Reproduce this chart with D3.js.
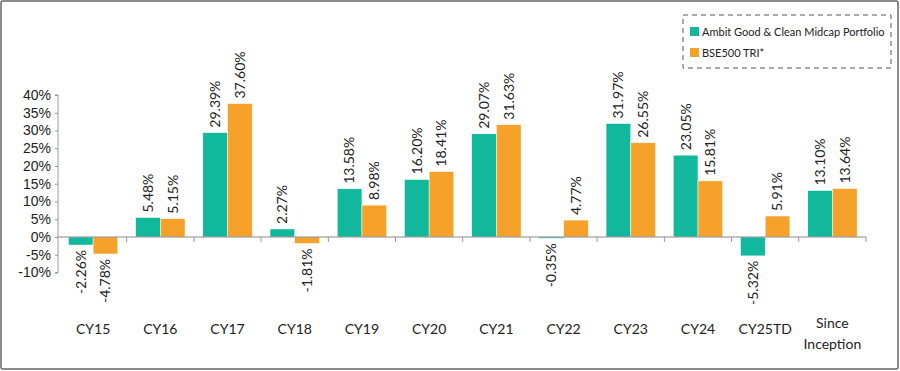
<!DOCTYPE html>
<html>
<head>
<meta charset="utf-8">
<script src="https://cdn.jsdelivr.net/npm/d3@7.9.0/dist/d3.min.js"></script>
<style>
  body { margin: 0; background: #fff; }
  svg { display: block; font-family: "Lato", "Noto Sans", sans-serif; }
</style>
</head>
<body>
<svg id="chart" width="900" height="371"></svg>
<script>
// data
const categories = ["CY15", "CY16", "CY17", "CY18", "CY19", "CY20", "CY21", "CY22", "CY23", "CY24", "CY25TD", "Since\nInception"];
const portfolio = [-2.26, 5.48, 29.39, 2.27, 13.58, 16.20, 29.07, -0.35, 31.97, 23.05, -5.32, 13.10];
const benchmark = [-4.78, 5.15, 37.60, -1.81, 8.98, 18.41, 31.63, 4.77, 26.55, 15.81, 5.91, 13.64];
const seriesNames = ["Ambit Good & Clean Midcap Portfolio", "BSE500 TRI*"];
const colors = ["#12b89b", "#f5a12a"];
const yTicks = [-10, -5, 0, 5, 10, 15, 20, 25, 30, 35, 40];

const svg = d3.select("#chart");

// outer frame
svg.append("rect")
  .attr("x", 1).attr("y", 1)
  .attr("width", 897).attr("height", 368)
  .attr("rx", 2)
  .attr("fill", "none")
  .attr("stroke", "#666")
  .attr("stroke-width", 1.5);

const x = d3.scaleBand().domain(categories).range([59.5, 866]);
const y = d3.scaleLinear().domain([-10, 40]).range([272.5, 95]);

const inner = d3.scaleBand().domain([0, 1]).range([0, x.bandwidth()]).paddingInner(0).paddingOuter(0.36);

// y axis
const yAxis = svg.append("g")
  .attr("transform", "translate(58,0)")
  .call(d3.axisLeft(y).tickValues(yTicks).tickFormat(d => d + "%").tickSize(3).tickPadding(4));
yAxis.select(".domain").attr("stroke", "#999").attr("d", `M-3,${y(-10)}H0V${y(40)}H-3`);
yAxis.selectAll(".tick line").attr("stroke", "#999");
yAxis.selectAll(".tick text").attr("fill", "#222").style("font-size", "14px");

// bars
const groups = svg.append("g").selectAll("g")
  .data(categories)
  .join("g")
  .attr("transform", d => `translate(${x(d)},0)`);

[portfolio, benchmark].forEach((series, s) => {
  groups.append("rect")
    .attr("x", inner(s))
    .attr("width", inner.bandwidth())
    .attr("y", (d, i) => y(Math.max(0, series[i])))
    .attr("height", (d, i) => Math.abs(y(series[i]) - y(0)))
    .attr("fill", colors[s])
    .attr("stroke", "#fff")
    .attr("stroke-width", 0.5);

  groups.append("text")
    .attr("transform", (d, i) => {
      const v = series[i];
      const ty = v >= 0 ? y(v) - 5 : y(v) + 5;
      return `translate(${inner(s) + inner.bandwidth() / 2},${ty}) rotate(-90)`;
    })
    .attr("dy", "0.35em")
    .attr("text-anchor", (d, i) => series[i] >= 0 ? "start" : "end")
    .attr("fill", "#222")
    .style("font-size", "14px")
    .text((d, i) => series[i].toFixed(2) + "%");
});

// zero line with category ticks
const xAxis = svg.append("g")
  .attr("transform", `translate(0,${y(0)})`);
xAxis.append("line")
  .attr("x1", 58).attr("x2", 866)
  .attr("stroke", "#888");
xAxis.selectAll(".sep")
  .data(categories.slice(1).concat(["end"]))
  .join("line")
  .attr("x1", (d, i) => x(categories[0]) + x.step() * (i + 1))
  .attr("x2", (d, i) => x(categories[0]) + x.step() * (i + 1))
  .attr("y1", 0).attr("y2", 5)
  .attr("stroke", "#999");

// category labels
svg.append("g").selectAll("text")
  .data(categories)
  .join("text")
  .attr("x", d => x(d) + x.bandwidth() / 2)
  .attr("y", d => d.includes("\n") ? 328 : 334)
  .attr("text-anchor", "middle")
  .attr("fill", "#222")
  .style("font-size", "14px")
  .each(function(d) {
    const lines = d.split("\n");
    d3.select(this).selectAll("tspan")
      .data(lines)
      .join("tspan")
      .attr("x", x(d) + x.bandwidth() / 2)
      .attr("dy", (l, i) => i === 0 ? 0 : "1.5em")
      .text(l => l);
  });

// legend
const legend = svg.append("g").attr("transform", "translate(683,15)");
legend.append("rect")
  .attr("width", 208).attr("height", 53)
  .attr("fill", "none")
  .attr("stroke", "#555")
  .attr("stroke-dasharray", "5,4");
seriesNames.forEach((name, i) => {
  legend.append("rect")
    .attr("x", 7).attr("y", 12 + i * 21)
    .attr("width", 9).attr("height", 9)
    .attr("fill", colors[i]);
  legend.append("text")
    .attr("x", 19).attr("y", 17 + i * 21)
    .attr("dy", "0.35em")
    .attr("fill", "#222")
    .style("font-size", "11px")
    .text(name);
});
</script>
</body>
</html>
